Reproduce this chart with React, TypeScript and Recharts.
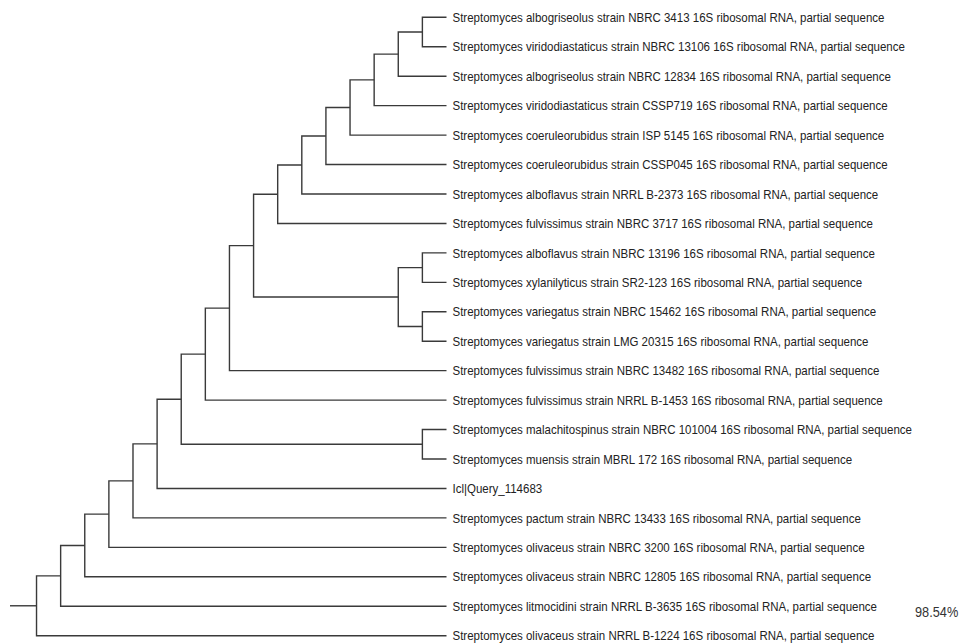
import { LineChart, Line, XAxis, YAxis } from "recharts"

// leaves, top to bottom
const leafNames = [
  "Streptomyces albogriseolus strain NBRC 3413 16S ribosomal RNA, partial sequence",
  "Streptomyces viridodiastaticus strain NBRC 13106 16S ribosomal RNA, partial sequence",
  "Streptomyces albogriseolus strain NBRC 12834 16S ribosomal RNA, partial sequence",
  "Streptomyces viridodiastaticus strain CSSP719 16S ribosomal RNA, partial sequence",
  "Streptomyces coeruleorubidus strain ISP 5145 16S ribosomal RNA, partial sequence",
  "Streptomyces coeruleorubidus strain CSSP045 16S ribosomal RNA, partial sequence",
  "Streptomyces alboflavus strain NRRL B-2373 16S ribosomal RNA, partial sequence",
  "Streptomyces fulvissimus strain NBRC 3717 16S ribosomal RNA, partial sequence",
  "Streptomyces alboflavus strain NBRC 13196 16S ribosomal RNA, partial sequence",
  "Streptomyces xylanilyticus strain SR2-123 16S ribosomal RNA, partial sequence",
  "Streptomyces variegatus strain NBRC 15462 16S ribosomal RNA, partial sequence",
  "Streptomyces variegatus strain LMG 20315 16S ribosomal RNA, partial sequence",
  "Streptomyces fulvissimus strain NBRC 13482 16S ribosomal RNA, partial sequence",
  "Streptomyces fulvissimus strain NRRL B-1453 16S ribosomal RNA, partial sequence",
  "Streptomyces malachitospinus strain NBRC 101004 16S ribosomal RNA, partial sequence",
  "Streptomyces muensis strain MBRL 172 16S ribosomal RNA, partial sequence",
  "Icl|Query_114683",
  "Streptomyces pactum strain NBRC 13433 16S ribosomal RNA, partial sequence",
  "Streptomyces olivaceus strain NBRC 3200 16S ribosomal RNA, partial sequence",
  "Streptomyces olivaceus strain NBRC 12805 16S ribosomal RNA, partial sequence",
  "Streptomyces litmocidini strain NRRL B-3635 16S ribosomal RNA, partial sequence",
  "Streptomyces olivaceus strain NRRL B-1224 16S ribosomal RNA, partial sequence",
]

// clades: [name, left child, right child, depth level]
// numbers are leaf indexes, strings are other clades (listed before their parent)
const clades: [string, number | string, number | string, number][] = [
  ["A", 0, 1, 16],
  ["B", "A", 2, 15],
  ["C", "B", 3, 14],
  ["D", "C", 4, 13],
  ["E", "D", 5, 12],
  ["F", "E", 6, 11],
  ["G", "F", 7, 10],
  ["H", 8, 9, 16],
  ["I", 10, 11, 16],
  ["J", "H", "I", 15],
  ["K", "G", "J", 9],
  ["L", "K", 12, 8],
  ["M", "L", 13, 7],
  ["N", 14, 15, 16],
  ["O", "M", "N", 6],
  ["P", "O", 16, 5],
  ["Q", "P", 17, 4],
  ["R", "Q", 18, 3],
  ["S", "R", 19, 2],
  ["T", "S", 20, 1],
  ["U", "T", 21, 0],
]

const leafDepth = 17
const rootStemStart = -1.1
const identityLabel = "98.54%"

type Pt = { x: number; y: number }

function buildSegments() {
  const pos: Record<string, Pt> = {}
  const at = (ref: number | string): Pt =>
    typeof ref === "number" ? { x: leafDepth, y: ref } : pos[ref]

  const segs: Pt[][] = []
  let root: Pt = { x: 0, y: 0 }
  clades.forEach(([name, l, r, d]) => {
    const a = at(l)
    const b = at(r)
    pos[name] = { x: d, y: (a.y + b.y) / 2 }
    root = pos[name]
    segs.push([
      { x: a.x, y: a.y },
      { x: d, y: a.y },
      { x: d, y: b.y },
      { x: b.x, y: b.y },
    ])
  })
  // stem to the left of the root
  segs.push([
    { x: rootStemStart, y: root.y },
    { x: root.x, y: root.y },
  ])
  return segs
}

const segments = buildSegments()

function LeafTick(props: any) {
  const { x, y, payload } = props
  return (
    <text
      x={0}
      y={0}
      dy="0.36em"
      transform={`translate(${x},${y}) scale(0.885,1)`}
      textAnchor="start"
      fontSize={13}
      fontFamily="'Liberation Sans', Arial, sans-serif"
      fill="#222"
    >
      {leafNames[payload.value]}
    </text>
  )
}

export default function App() {
  return (
    <div style={{ position: "absolute", left: 0, top: 0, width: 960, height: 643, background: "#fff" }}>
      <LineChart
        width={960}
        height={643}
        margin={{ top: 17.3, right: 33.5, bottom: 7.3, left: 10 }}
      >
        <XAxis dataKey="x" type="number" domain={[rootStemStart, leafDepth]} hide allowDuplicatedCategory={false} />
        <YAxis
          yAxisId={0}
          orientation="right"
          type="number"
          dataKey="y"
          domain={[0, leafNames.length - 1]}
          reversed
          ticks={leafNames.map((_, i) => i)}
          interval={0}
          axisLine={false}
          tickLine={false}
          tickSize={0}
          tickMargin={6}
          width={480}
          tick={<LeafTick />}
        />
        {segments.map((seg, i) => (
          <Line
            key={i}
            data={seg}
            dataKey="y"
            type="linear"
            stroke="#3a3a3a"
            strokeWidth={1.4}
            dot={false}
            activeDot={false}
            isAnimationActive={false}
          />
        ))}
      </LineChart>
      <div
        style={{
          position: "absolute",
          left: 915,
          top: 603,
          fontFamily: "'Liberation Sans', Arial, sans-serif",
          fontSize: 15,
          color: "#333",
          transform: "scaleX(0.85)",
          transformOrigin: "left top",
          whiteSpace: "nowrap",
        }}
      >
        {identityLabel}
      </div>
    </div>
  )
}
